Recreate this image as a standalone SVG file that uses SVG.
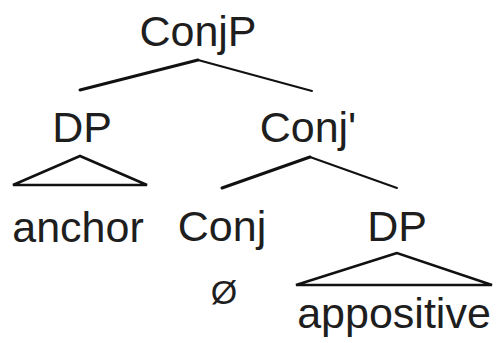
<svg xmlns="http://www.w3.org/2000/svg" width="497" height="343" viewBox="0 0 497 343">
  <style>
    text { font-family: "Liberation Sans", Arial, sans-serif; font-size: 43px; fill: #1e1e1e; text-anchor: middle; }
    .small { font-size: 34px; }
    .br { stroke: #111; fill: none; stroke-linecap: round; stroke-linejoin: round; }
    .thick { stroke-width: 3; }
    .thin { stroke-width: 2; }
    .tri { stroke: #111; fill: none; stroke-width: 2.6; stroke-linejoin: miter; }
  </style>
  <rect width="497" height="343" fill="#ffffff"/>

  <g id="connectors">
    <!-- ConjP branches -->
    <line class="br thick" x1="198" y1="60" x2="80" y2="90"/>
    <line class="br thin" x1="198" y1="60" x2="312" y2="91"/>
    <!-- Conj' branches -->
    <line class="br thick" x1="310" y1="157" x2="222" y2="188"/>
    <line class="br thin" x1="310" y1="157" x2="397" y2="188"/>
  </g>

  <g id="node-conjp">
    <text x="198" y="46">ConjP</text>
  </g>
  <g id="node-dp-anchor">
    <text x="82" y="142">DP</text>
    <polygon class="tri" points="80,156 13,185 147,185"/>
  </g>
  <g id="node-conj-bar">
    <text x="308" y="142">Conj'</text>
  </g>
  <g id="node-anchor">
    <text x="78" y="242">anchor</text>
  </g>
  <g id="node-conj">
    <text x="222" y="241">Conj</text>
  </g>
  <g id="node-null">
    <text class="small" x="224" y="304">Ø</text>
  </g>
  <g id="node-dp-appositive">
    <text x="397" y="241">DP</text>
    <polygon class="tri" points="397,253 296,285 492,285"/>
  </g>
  <g id="node-appositive">
    <text x="394" y="328">appositive</text>
  </g>
</svg>
